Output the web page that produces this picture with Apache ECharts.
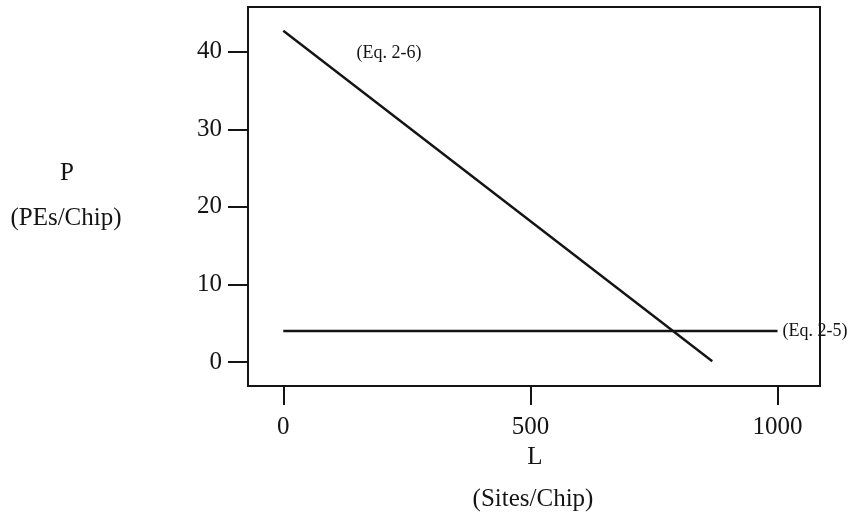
<!DOCTYPE html>
<html>
<head>
<meta charset="utf-8">
<script src="https://cdn.jsdelivr.net/npm/echarts@6/dist/echarts.min.js"></script>
<style>
html,body{margin:0;padding:0;background:#fff;}
#chart{width:851px;height:516px;}
</style>
</head>
<body>
<div id="chart"></div>
<script>
// Data
const xTicks = [0, 500, 1000];
const yTicks = [0, 10, 20, 30, 40];
const eq26 = [[0, 42.7], [868, 0.1]];      // P vs L, Eq. 2-6
const eq25 = [[0, 4], [1000, 4]];          // P vs L, Eq. 2-5
const eq26LabelAt = [[214, 39.8]];
const xName = ['L', '(Sites/Chip)'];
const yName = ['P', '(PEs/Chip)'];
const seriesLabels = ['(Eq. 2-6)', '(Eq. 2-5)'];

const FONT = '"Liberation Serif", "DejaVu Serif", serif';
const INK = '#141414';

const chart = echarts.init(document.getElementById('chart'), null, {renderer: 'canvas'});
chart.setOption({
  animation: false,
  backgroundColor: '#ffffff',
  grid: {
    left: 248, right: 31, top: 7, bottom: 130,
    show: true, borderColor: INK, borderWidth: 2, backgroundColor: 'transparent'
  },
  xAxis: {
    type: 'value', min: -71.4, max: 1086,
    splitLine: {show: false},
    axisLine: {show: false, onZero: false},
    axisTick: {show: true, inside: false, length: 19, customValues: xTicks,
      lineStyle: {color: INK, width: 2}},
    axisLabel: {show: true, customValues: xTicks, margin: 29,
      formatter: v => String(v),
      fontFamily: FONT, fontSize: 25, color: INK}
  },
  yAxis: {
    type: 'value', min: -3.09, max: 45.76,
    splitLine: {show: false},
    axisLine: {show: false, onZero: false},
    axisTick: {show: true, inside: false, length: 20, customValues: yTicks,
      lineStyle: {color: INK, width: 2}},
    axisLabel: {show: true, customValues: yTicks, margin: 26,
      formatter: v => String(v),
      fontFamily: FONT, fontSize: 25, color: INK}
  },
  graphic: [
    {type: 'text', x: 67, y: 173, style: {text: yName[0], font: '25px ' + FONT, fill: INK, align: 'center', verticalAlign: 'middle'}},
    {type: 'text', x: 66, y: 218, style: {text: yName[1], font: '25px ' + FONT, fill: INK, align: 'center', verticalAlign: 'middle'}},
    {type: 'text', x: 535, y: 457, style: {text: xName[0], font: '25px ' + FONT, fill: INK, align: 'center', verticalAlign: 'middle'}},
    {type: 'text', x: 533, y: 499, style: {text: xName[1], font: '25px ' + FONT, fill: INK, align: 'center', verticalAlign: 'middle'}}
  ],
  series: [
    {
      name: 'Eq. 2-6', type: 'line', data: eq26, symbol: 'none',
      lineStyle: {color: INK, width: 2.4}
    },
    {
      name: 'Eq. 2-5', type: 'line', data: eq25, symbol: 'none',
      lineStyle: {color: INK, width: 2.4},
      endLabel: {show: true, formatter: seriesLabels[1], distance: 5,
        fontFamily: FONT, fontSize: 18, color: INK}
    },
    {
      name: 'Eq. 2-6 label', type: 'scatter', data: eq26LabelAt, symbolSize: 0,
      itemStyle: {opacity: 1, color: INK},
      label: {show: true, position: 'inside', formatter: seriesLabels[0],
        fontFamily: FONT, fontSize: 18, color: INK}
    }
  ]
});
</script>
</body>
</html>
